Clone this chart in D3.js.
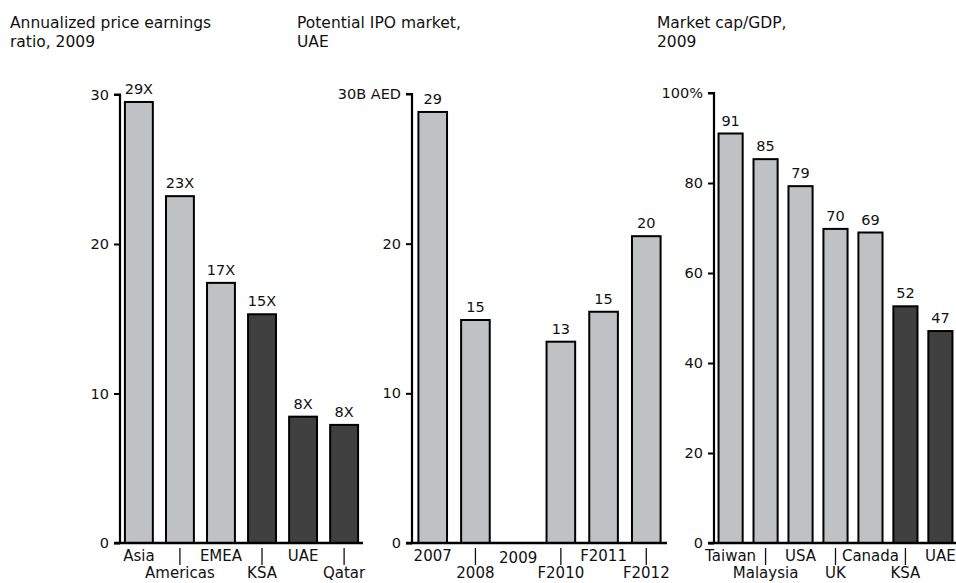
<!DOCTYPE html>
<html>
<head>
<meta charset="utf-8">
<script src="https://cdn.jsdelivr.net/npm/d3@7"></script>
<style>
  html, body { margin: 0; padding: 0; background: #fff; }
  svg { display: block; }
  text { font-family: "DejaVu Sans", Verdana, sans-serif; fill: #111; }
</style>
</head>
<body>
<svg id="chart" width="956" height="583"></svg>
<script>
// ---------- Panel 1: Annualized P/E ratio, 2009 ----------
const peTitle = ["Annualized price earnings", "ratio, 2009"];
const peCategories = ["Asia", "Americas", "EMEA", "KSA", "UAE", "Qatar"];
const peValues = [29.5, 23.2, 17.4, 15.3, 8.45, 7.9];
const peLabels = ["29X", "23X", "17X", "15X", "8X", "8X"];
const peGulf = [false, false, false, true, true, true];
const peTicks = [0, 10, 20, 30];
const peTickLabels = ["0", "10", "20", "30"];

// ---------- Panel 2: Potential IPO market, UAE ----------
const ipoTitle = ["Potential IPO market,", "UAE"];
const ipoCategories = ["2007", "2008", "2009", "F2010", "F2011", "F2012"];
const ipoValues = [28.8, 14.9, null, 13.45, 15.45, 20.5];
const ipoLabels = ["29", "15", "", "13", "15", "20"];
const ipoGulf = [false, false, false, false, false, false];
const ipoTicks = [0, 10, 20, 30];
const ipoTickLabels = ["0", "10", "20", "30B AED"];

// ---------- Panel 3: Market cap/GDP, 2009 ----------
const mcTitle = ["Market cap/GDP,", "2009"];
const mcCategories = ["Taiwan", "Malaysia", "USA", "UK", "Canada", "KSA", "UAE"];
const mcValues = [91, 85.3, 79.3, 69.8, 69.0, 52.6, 47.1];
const mcLabels = ["91", "85", "79", "70", "69", "52", "47"];
const mcGulf = [false, false, false, false, false, true, true];
const mcTicks = [0, 20, 40, 60, 80, 100];
const mcTickLabels = ["0", "20", "40", "60", "80", "100%"];

const LIGHT = "#c0c1c3";
const DARK = "#404040";
const svg = d3.select("#chart");

function panel(cfg) {
  const g = svg.append("g");

  // title
  const t = g.append("text").attr("x", cfg.titleX).attr("y", 28)
    .style("font-size", "15.5px");
  cfg.title.forEach((line, i) => {
    t.append("tspan").attr("x", cfg.titleX).attr("y", 28 + i * 19).text(line);
  });

  const x = d3.scaleBand()
    .domain(cfg.categories)
    .range([cfg.x0, cfg.x1])
    .paddingInner(cfg.padIn)
    .paddingOuter(cfg.padOut);
  const y = d3.scaleLinear().domain(cfg.domain).range([543, cfg.yTop]);

  const data = cfg.categories.map((c, i) => ({
    c, v: cfg.values[i], label: cfg.labels[i], gulf: cfg.gulf[i], i
  }));

  // bars
  g.selectAll("rect.bar")
    .data(data.filter(d => d.v != null))
    .join("rect")
    .attr("class", "bar")
    .attr("x", d => x(d.c))
    .attr("y", d => y(d.v))
    .attr("width", x.bandwidth())
    .attr("height", d => y(0) - y(d.v))
    .attr("fill", d => d.gulf ? DARK : LIGHT)
    .attr("stroke", "#000")
    .attr("stroke-width", 2);

  // value labels
  g.selectAll("text.val")
    .data(data.filter(d => d.v != null))
    .join("text")
    .attr("class", "val")
    .attr("x", d => x(d.c) + x.bandwidth() / 2)
    .attr("y", d => y(d.v) - 8)
    .attr("text-anchor", "middle")
    .style("font-size", "14.5px")
    .text(d => d.label);

  // y axis
  const yAxis = d3.axisLeft(y)
    .tickValues(cfg.ticks)
    .tickFormat((d, i) => cfg.tickLabels[i])
    .tickSize(6)
    .tickPadding(5);
  const ya = g.append("g").attr("transform", `translate(${cfg.x0},0)`).call(yAxis);
  ya.select(".domain").attr("stroke", "#000").attr("stroke-width", 2.2)
    .attr("d", `M-6,${y(cfg.domain[1])}H0V${y(0)}`);
  ya.selectAll(".tick line").attr("stroke", "#000").attr("stroke-width", 2);
  ya.selectAll(".tick text").style("font-size", "14.5px").attr("fill", "#111")
    .style("font-family", '"DejaVu Sans", Verdana, sans-serif');

  // x baseline
  g.append("line")
    .attr("x1", cfg.x0 - 6).attr("x2", cfg.x1)
    .attr("y1", y(0)).attr("y2", y(0))
    .attr("stroke", "#000").attr("stroke-width", 2.4);

  // category labels (alternating rows)
  g.selectAll("text.cat")
    .data(data)
    .join("text")
    .attr("class", "cat")
    .attr("x", d => x(d.c) + x.bandwidth() / 2)
    .attr("y", d => d.i % 2 === 0 ? (d.v == null ? 563 : 561) : 578)
    .attr("text-anchor", "middle")
    .style("font-size", "15px")
    .text(d => d.c);

  g.selectAll("line.conn")
    .data(data.filter(d => d.i % 2 === 1))
    .join("line")
    .attr("class", "conn")
    .attr("x1", d => x(d.c) + x.bandwidth() / 2)
    .attr("x2", d => x(d.c) + x.bandwidth() / 2)
    .attr("y1", 548).attr("y2", 565)
    .attr("stroke", "#111").attr("stroke-width", 1.3);
}

panel({
  title: peTitle, titleX: 10,
  categories: peCategories, values: peValues, labels: peLabels, gulf: peGulf,
  ticks: peTicks, tickLabels: peTickLabels, domain: [0, 30], yTop: 94.5,
  x0: 120, x1: 363, padIn: 0.32, padOut: 0.12
});

panel({
  title: ipoTitle, titleX: 297,
  categories: ipoCategories, values: ipoValues, labels: ipoLabels, gulf: ipoGulf,
  ticks: ipoTicks, tickLabels: ipoTickLabels, domain: [0, 30], yTop: 94,
  x0: 412, x1: 667, padIn: 0.33, padOut: 0.15
});

panel({
  title: mcTitle, titleX: 657,
  categories: mcCategories, values: mcValues, labels: mcLabels, gulf: mcGulf,
  ticks: mcTicks, tickLabels: mcTickLabels, domain: [0, 100], yTop: 93,
  x0: 714, x1: 957, padIn: 0.31, padOut: 0.13
});
</script>
</body>
</html>
